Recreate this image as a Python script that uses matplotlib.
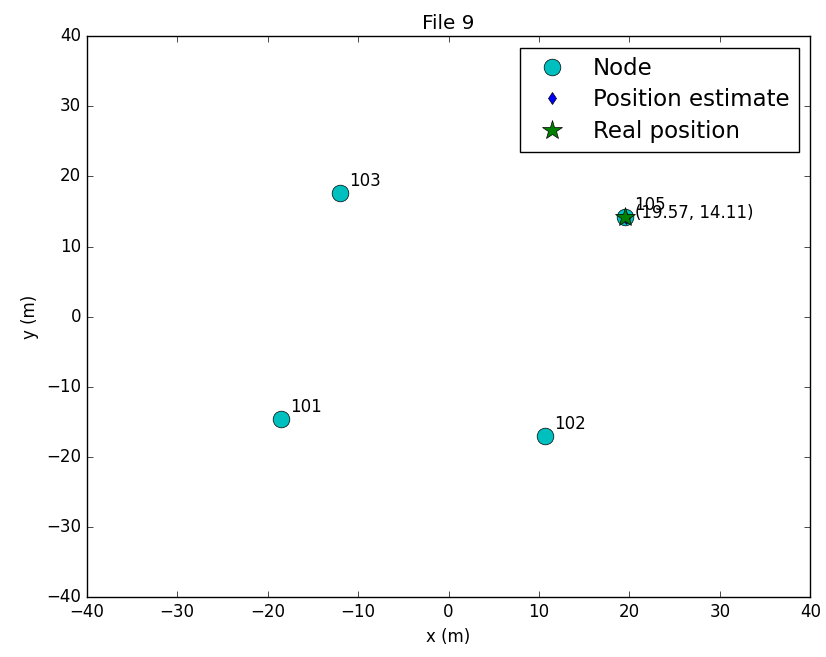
import matplotlib
matplotlib.use('Agg')
import matplotlib.pyplot as plt

plt.style.use('classic')

node_ids = ['101', '102', '103', '105']
node_x = [-18.5, 10.7, -12.0, 19.5]
node_y = [-14.6, -17.0, 17.7, 14.2]

estimate_x = [19.57]
estimate_y = [14.11]

real_x = [19.5]
real_y = [14.2]


def main():
    fig = plt.figure(figsize=(8.26, 6.57), dpi=100, facecolor='white')
    ax = fig.add_axes([0.105, 0.091, 0.876, 0.854])

    ax.plot(node_x, node_y, 'co', markersize=12, label='Node')
    for name, x, y in zip(node_ids, node_x, node_y):
        ax.text(x + 1, y + 1, name)

    ax.plot(estimate_x, estimate_y, 'bd', markersize=6, label='Position estimate')
    for x, y in zip(estimate_x, estimate_y):
        ax.text(x + 1, y, '(%.2f, %.2f)' % (x, y))

    ax.plot(real_x, real_y, 'g*', markersize=15, label='Real position')

    ax.set_xlim(-40, 40)
    ax.set_ylim(-40, 40)
    ax.set_xlabel('x (m)')
    ax.set_ylabel('y (m)')
    ax.set_title('File 9')
    ax.legend(loc='upper right', numpoints=1, fontsize=16.5, labelspacing=0.37)

    fig.savefig('out.png', dpi=100, facecolor='white')


if __name__ == '__main__':
    main()
